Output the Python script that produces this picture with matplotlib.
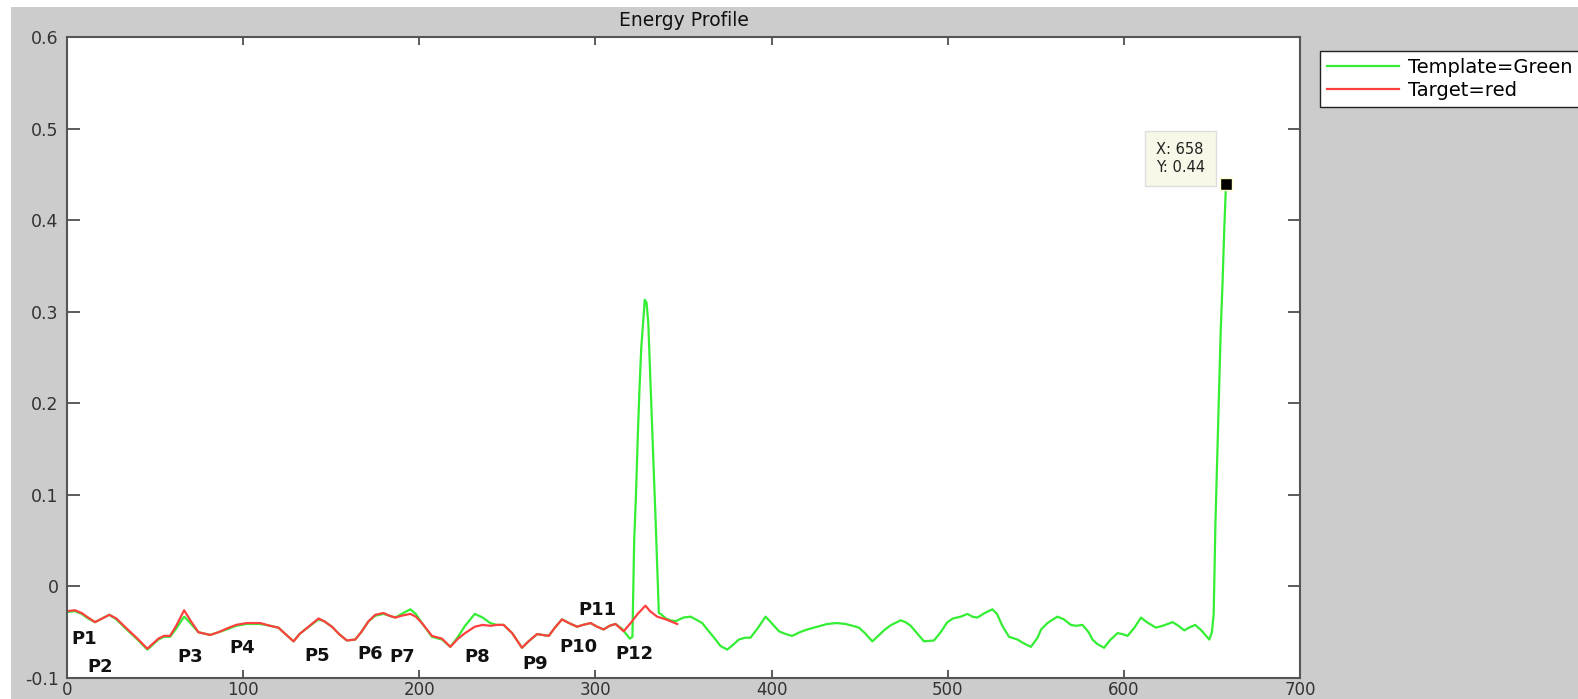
import numpy as np
import matplotlib.pyplot as plt
from matplotlib.patches import Rectangle

# template (green) curve
template_x = [0, 4.5, 8.3, 12, 15.9, 20, 24, 28, 33.9, 40, 45.6, 49, 51.9, 55, 58.5, 62, 66.5, 70,
              74.6, 81.3, 86, 90.7, 96, 102, 109.7, 115.3, 120, 124, 128.6, 132, 135.2, 142.8, 146,
              150.4, 155, 158.9, 163.6, 167, 171.2, 175, 179.7, 183, 186.4, 190, 194.9, 198, 201.5,
              207.2, 212.9, 217.6, 222, 226, 231.5, 236, 240.3, 244, 247.9, 252.7, 258.3, 262, 266.9,
              270, 273.5, 277, 281, 285, 289.6, 293, 297.2, 301, 304.7, 308, 311.4, 315, 319.5, 321,
              322, 323, 324, 325, 326, 327, 328, 329, 330, 331, 332, 333, 334, 335, 336,
              337, 340, 342.6, 345.5, 350, 354, 357, 360.6, 364, 368.2, 371, 374.8, 378, 381.4, 385,
              388, 392, 396.6, 400, 404.2, 408, 411.7, 416, 420.3, 426, 431.6, 437, 442, 446, 449.6,
              453, 457.2, 460, 464.4, 468, 473.3, 476, 479, 483, 486.5, 492.2, 496, 499.8, 503, 507.4,
              511.2, 514, 516.9, 521, 525.4, 528, 531, 534.8, 539.6, 543, 547.2, 551, 553, 556.6, 562.3,
              566, 569.9, 573, 576.5, 580, 582.2, 585, 588.8, 592, 596.4, 599, 602.1, 606, 609.7, 613,
              618.2, 622, 627.7, 631, 634.3, 637, 640.5, 644, 648.5, 650, 651,
              652, 653, 654, 655, 656, 657, 658]
template_y = [-0.028, -0.027, -0.030, -0.035, -0.039, -0.035, -0.031, -0.036, -0.047, -0.058, -0.069,
              -0.063, -0.058, -0.055, -0.055, -0.046, -0.033, -0.040, -0.050, -0.053, -0.050, -0.047,
              -0.043, -0.041, -0.041, -0.043, -0.045, -0.052, -0.060, -0.052, -0.047, -0.036, -0.038,
              -0.044, -0.053, -0.059, -0.058, -0.050, -0.038, -0.032, -0.030, -0.032, -0.034, -0.030,
              -0.025, -0.030, -0.040, -0.055, -0.058, -0.066, -0.055, -0.043, -0.030, -0.034, -0.040,
              -0.042, -0.042, -0.051, -0.067, -0.060, -0.052, -0.053, -0.054, -0.045, -0.036, -0.040,
              -0.044, -0.042, -0.040, -0.044, -0.047, -0.043, -0.041, -0.046, -0.057, -0.055,
              0.050, 0.099, 0.161, 0.215, 0.260, 0.286, 0.313, 0.310, 0.288, 0.235, 0.183, 0.132,
              0.081, 0.026, -0.029,
              -0.030, -0.035, -0.037, -0.038, -0.034, -0.033, -0.036, -0.040, -0.048, -0.058, -0.065,
              -0.069, -0.064, -0.058, -0.056, -0.056, -0.046, -0.033, -0.040, -0.049, -0.052, -0.054,
              -0.050, -0.047, -0.044, -0.041, -0.040, -0.041, -0.043, -0.045, -0.051, -0.060, -0.055,
              -0.047, -0.042, -0.037, -0.039, -0.043, -0.052, -0.060, -0.059, -0.050, -0.039, -0.035,
              -0.033, -0.030, -0.033, -0.034, -0.029, -0.025, -0.030, -0.043, -0.055, -0.058, -0.062,
              -0.066, -0.056, -0.047, -0.040, -0.033, -0.036, -0.042, -0.043, -0.042, -0.050, -0.058,
              -0.063, -0.067, -0.059, -0.051, -0.052, -0.054, -0.045, -0.034, -0.039, -0.045, -0.043,
              -0.039, -0.043, -0.048, -0.045, -0.042, -0.048, -0.058, -0.050, -0.030,
              0.07, 0.14, 0.21, 0.28, 0.33, 0.39, 0.44]

# target (red) curve
target_x = [0, 4.5, 8.3, 12, 15.9, 20, 24, 28, 33.9, 40, 45.6, 49, 51.9, 55, 58.5, 62, 66.5, 70,
            74.6, 81.3, 86, 90.7, 96, 102, 109.7, 115.3, 120, 124, 128.6, 132, 135.2, 142.8, 146,
            150.4, 155, 158.9, 163.6, 167, 171.2, 175, 179.7, 183, 186.4, 190, 194.9, 198, 201.5,
            207.2, 212.9, 217.6, 222, 226, 231.5, 236, 240.3, 244, 247.9, 252.7, 258.3, 262, 266.9,
            270, 273.5, 277, 281, 285, 289.6, 293, 297.2, 301, 304.7, 308, 311.4, 316, 320, 324,
            328.4, 331, 335, 340, 346.4]
target_y = [-0.027, -0.026, -0.029, -0.034, -0.039, -0.035, -0.031, -0.035, -0.046, -0.057, -0.068,
            -0.062, -0.057, -0.054, -0.054, -0.043, -0.026, -0.037, -0.050, -0.053, -0.050, -0.046,
            -0.042, -0.040, -0.040, -0.043, -0.045, -0.052, -0.060, -0.052, -0.047, -0.035, -0.038,
            -0.044, -0.053, -0.059, -0.058, -0.050, -0.038, -0.031, -0.029, -0.032, -0.034, -0.032,
            -0.030, -0.033, -0.040, -0.054, -0.057, -0.066, -0.057, -0.051, -0.044, -0.042, -0.043,
            -0.042, -0.042, -0.051, -0.067, -0.060, -0.052, -0.053, -0.054, -0.045, -0.036, -0.040,
            -0.044, -0.042, -0.040, -0.044, -0.047, -0.043, -0.041, -0.049, -0.040, -0.030,
            -0.021, -0.027, -0.033, -0.036, -0.041]

peak_labels = ['P1', 'P2', 'P3', 'P4', 'P5', 'P6', 'P7', 'P8', 'P9', 'P10', 'P11', 'P12']
peak_x = [9.7, 18.8, 69.9, 99.6, 141.9, 172.2, 190.2, 232.8, 265.9, 290.5, 301.3, 322.2]
peak_y = [-0.0575, -0.0876, -0.0766, -0.0674, -0.0758, -0.074, -0.0773, -0.0773, -0.0846, -0.0663,
          -0.0253, -0.074]

tip_x, tip_y = 658, 0.44

fig = plt.figure(figsize=(15.78, 6.99), dpi=100, facecolor='#cccccc')
# white strips at top and left of the screenshot
fig.patches.append(Rectangle((0, 1 - 7/699), 1, 7/699, transform=fig.transFigure,
                             facecolor='white', edgecolor='none', zorder=0))
fig.patches.append(Rectangle((0, 0), 11/1578, 1, transform=fig.transFigure,
                             facecolor='white', edgecolor='none', zorder=0))

ax = fig.add_axes([67/1578, 1 - 678/699, 1233/1578, 641/699])
ax.plot(template_x, template_y, color='#33ee33', lw=1.6, label='Template=Green')
ax.plot(target_x, target_y, color='#ff4040', lw=1.6, label='Target=red')

for lab, px, py in zip(peak_labels, peak_x, peak_y):
    ax.text(px, py, lab, fontsize=13, fontweight='bold', ha='center', va='center', color='#111111')

# data tip
ax.plot([tip_x], [tip_y], marker='s', color='black', markersize=8, markeredgecolor='#ffffcc', zorder=5)
ax.annotate('X: 658\nY: 0.44', xy=(tip_x, tip_y), xytext=(-33, 18), textcoords='offset points',
            ha='center', va='center', fontsize=10.5, color='#222222',
            bbox=dict(boxstyle='square,pad=0.75', facecolor='#f8f8e8', edgecolor='#dddddd'))

ax.set_xlim(0, 700)
ax.set_ylim(-0.1, 0.6)
ax.set_xticks([0, 100, 200, 300, 400, 500, 600, 700])
ax.set_yticks([-0.1, 0, 0.1, 0.2, 0.3, 0.4, 0.5, 0.6])
ax.set_yticklabels(['-0.1', '0', '0.1', '0.2', '0.3', '0.4', '0.5', '0.6'])
ax.tick_params(axis='both', direction='in', top=True, right=True, labelsize=12.5,
               colors='#404040', labelcolor='#333333', width=1.2)
ax.tick_params(axis='y', length=9, pad=6)
ax.tick_params(axis='x', length=6, pad=2, labelsize=12)
for s in ax.spines.values():
    s.set_color('#555555')
    s.set_linewidth(1.5)

ax.set_title('Energy Profile', fontsize=13.5, pad=8, color='#111111')

fig.legend(loc='upper left', bbox_to_anchor=(1320/1578, 1 - 51/699), fontsize=14,
           frameon=True, fancybox=False, edgecolor='#222222', framealpha=1,
           handlelength=3.7, handletextpad=0.5, labelspacing=0.2, borderpad=0.35, borderaxespad=0)

fig.savefig('out.png', dpi=100, facecolor=fig.get_facecolor())
